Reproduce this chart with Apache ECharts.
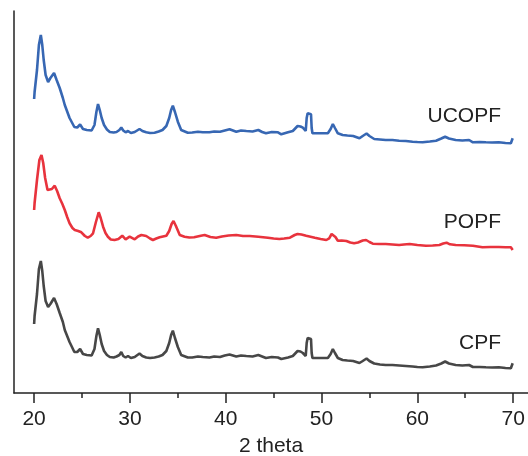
<!DOCTYPE html>
<html>
<head>
<meta charset="utf-8">
<script src="https://cdn.jsdelivr.net/npm/echarts@6/dist/echarts.min.js"></script>
<style>html,body{margin:0;padding:0;background:#fff}#c{width:528px;height:456px}</style>
</head>
<body>
<div id="c"></div>
<script>
// 2 theta (deg) and intensity (a.u.)
const thetaU = [20.0,20.05,20.3,20.5,20.7,20.85,21.0,21.2,21.46,21.7,22.08,22.35,22.67,23.0,23.2,23.7,24.2,24.5,24.8,25.1,25.5,26.0,26.3,26.5,26.67,26.85,27.05,27.3,27.6,27.9,28.3,28.6,28.9,29.1,29.3,29.55,29.8,30.1,30.5,31.0,31.3,31.7,32.1,32.57,33.0,33.4,33.8,34.1,34.3,34.48,34.7,35.0,35.35,36.04,36.5,37.1,37.6,38.3,38.8,39.4,39.9,40.4,41.1,41.6,42.15,42.8,43.4,43.8,44.2,44.8,45.45,45.8,46.5,47.0,47.5,47.8,48.05,48.35,48.45,48.55,48.75,48.9,48.97,49.05,49.8,50.66,50.95,51.18,51.4,51.7,52.2,52.7,53.3,53.96,54.3,54.7,55.0,55.5,56.1,56.7,57.4,58.1,58.8,59.5,60.0,60.55,61.3,61.95,62.5,62.9,63.3,64.0,64.7,65.4,65.8,66.5,67.15,67.8,68.5,69.2,69.76,69.95];
const ucopf = [69,76,98,123,133,123,108,93,86,90,95,88,80,70,63,50,41,40.5,43.5,39,38,37.5,43,56,64,58,50,43,38.5,36,35.5,36,38,40.5,37.5,35.7,37,35,36,39,37,35.7,35,35.3,36.5,38,42,50,58,62.3,56,46.3,38,35.3,35.5,36.3,35.7,35.7,36.5,36.3,37.5,38.7,36.3,37.5,37,36.5,38,36,34.7,36,35.7,33.7,35.7,37,42,41.5,40.3,37,50,54.7,54.5,53.7,40,34.7,34.7,34.7,39,44,40,34.7,33,32.5,32,29.7,32,34.5,32,29,28.5,28,28,27.3,27,26.3,26,25.7,26.5,27.3,29.5,31.3,29.5,28,27.5,28,25.7,26,25.7,25.5,25.7,25,24.7,29.7];
const cpf = [69,77,99,124,132,122,107,92,86,89,95,89,80,71,63,51,41,41,44,39,38,37.5,44,57,64.7,58,49,42,38,36,35.5,36.5,38,41,37,35.5,37,35,36,39.5,37,35.5,35,35.5,36.5,38,42,50,58,62.3,55,46,38,35.5,35.5,36.5,36,35.5,36.5,36,37.5,38.5,36.5,37.5,37,36.5,38,36.5,35,36,35.5,34,35.5,37,42,41.5,40,37,50,55,55,54,40,35,35,35,39,44,40,35,33,32.5,32,30,32,34.5,32,29.5,28.5,28,28,27.5,27,26.5,26,25.7,26.5,27.5,29.5,31.5,29.5,28,27.5,28,26,26,25.7,25.5,25.7,25,24.7,29.7];
const thetaP = [20.0,20.05,20.3,20.55,20.77,20.95,21.15,21.4,21.6,21.85,22.15,22.4,22.67,22.95,23.2,23.45,23.7,24.0,24.24,24.6,24.93,25.3,25.6,25.9,26.15,26.45,26.74,26.95,27.2,27.45,27.7,28.0,28.4,28.8,29.2,29.55,29.97,30.5,30.85,31.2,31.7,32.1,32.4,32.75,33.1,33.8,34.1,34.35,34.55,34.8,35.2,35.7,36.2,36.7,37.4,37.8,38.4,39.0,39.6,40.3,41.1,41.8,42.5,43.4,44.4,45.0,45.6,46.1,46.7,47.2,47.5,47.9,48.4,49.3,49.9,50.5,50.8,51.05,51.25,51.45,51.7,52.1,52.6,53.0,53.4,53.8,54.3,54.65,55.0,55.35,56.0,56.7,57.4,58.1,58.6,59.2,60.0,60.9,61.6,62.3,62.7,63.05,63.4,64.0,64.9,65.8,66.3,66.8,67.6,68.5,69.2,69.76,69.95];
const popf = [63,70,93,113,118,110,95,83,81,84,87.3,82,74.7,69,63,56,49.7,45,43,42,40.7,37,35.3,37,39.7,51,60.7,55,46.3,40,36.3,33.5,33,34,37.3,33.7,36.3,33.7,36.5,38,37,34.5,33,34.5,35.7,37.3,42,49,52,47,38,36.3,35.5,35.7,37.3,38,36,35.3,36.5,37.5,38,37,37,36.3,35.3,34.5,34,34.5,35.3,38,39,38.5,37.3,35.3,34,33,34.7,39,40.7,36,32.3,32.5,32,30.5,29.7,30.5,32.5,33,31,29.3,29,29,28.5,28,28.5,29,28,27.3,27.5,28,29.5,30.3,28.7,28,27.7,27.3,26.5,25.7,26,26,25.8,25.7,23];
const offsets = {CPF: 0, POPF: 120, UCOPF: 225};
const majorTicks = [20, 30, 40, 50, 60, 70];
const minorTicks = [25, 35, 45, 55, 65];
const names = ['UCOPF', 'POPF', 'CPF'];

function stack(th, vals, off) { return th.map((t, i) => [t, vals[i] + off]); }

const font = 'Liberation Sans, Arial, sans-serif';
const chart = echarts.init(document.getElementById('c'));
const xBase = {type: 'value', min: 17.9, max: 71.55, splitLine: {show: false}};
chart.setOption({
  animation: false,
  grid: {left: 14, right: 0, top: 11, bottom: 63, containLabel: false, outerBoundsMode: 'none'},
  xAxis: [
    Object.assign({}, xBase, {
      name: '2 theta', nameLocation: 'middle', nameGap: 43,
      nameTextStyle: {fontFamily: font, fontSize: 21, color: '#222'},
      axisLine: {show: true, lineStyle: {color: '#222', width: 1.5}},
      axisTick: {show: true, length: 10, customValues: majorTicks, lineStyle: {color: '#222', width: 1.5}},
      axisLabel: {show: true, customValues: majorTicks, margin: 16, fontFamily: font, fontSize: 21, color: '#222'}
    }),
    Object.assign({}, xBase, {
      position: 'bottom',
      axisLine: {show: false},
      axisTick: {show: true, length: 5, customValues: minorTicks, lineStyle: {color: '#222', width: 1.5}},
      axisLabel: {show: false}
    })
  ],
  yAxis: {type: 'value', min: 0, max: 382, axisLine: {show: true, lineStyle: {color: '#222', width: 1.5}},
    axisTick: {show: false}, axisLabel: {show: false}, splitLine: {show: false}},
  series: [
    {name: 'UCOPF', type: 'line', data: stack(thetaU, ucopf, offsets.UCOPF), color: '#3767b3'},
    {name: 'POPF', type: 'line', data: stack(thetaP, popf, offsets.POPF), color: '#e8333d'},
    {name: 'CPF', type: 'line', data: stack(thetaU, cpf, offsets.CPF), color: '#474747'}
  ].map(s => Object.assign(s, {showSymbol: false, symbol: 'none', lineStyle: {width: 2.6, color: s.color}, z: 3})),
  graphic: [
    {type: 'text', right: 27, top: 106, style: {text: names[0], fontFamily: font, fontSize: 21, fill: '#222'}},
    {type: 'text', right: 27, top: 212, style: {text: names[1], fontFamily: font, fontSize: 21, fill: '#222'}},
    {type: 'text', right: 27, top: 333, style: {text: names[2], fontFamily: font, fontSize: 21, fill: '#222'}}
  ]
});
</script>
</body>
</html>
